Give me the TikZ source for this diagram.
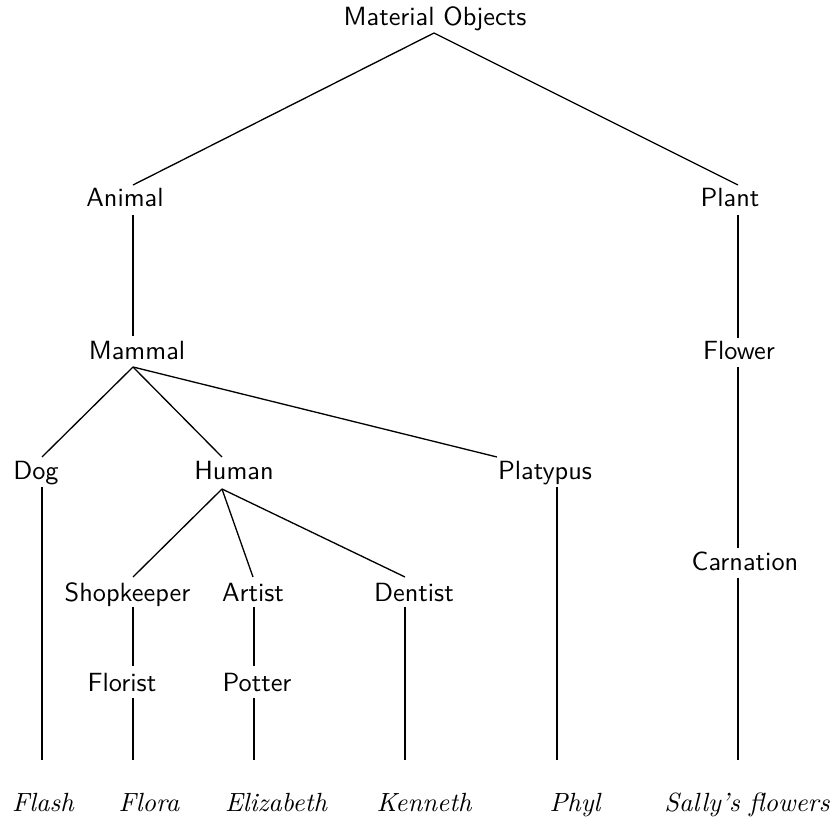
\documentclass[tikz,border=0pt]{standalone}
\begin{document}
\begin{tikzpicture}[x=0.38pt,y=-0.38pt,
  cat/.style={font=\sffamily, inner sep=0pt, anchor=base},
  ind/.style={font=\itshape, inner sep=0pt, anchor=base},
  branch/.style={draw=black, line width=0.5pt}]
\useasboundingbox (0,0) rectangle (830,820);
% category nodes
\node[cat] (mo) at (435,26) {Material Objects};
\node[cat] (animal) at (125,207) {Animal};
\node[cat] (plant) at (730,207) {Plant};
\node[cat] (mammal) at (137,359) {Mammal};
\node[cat] (flower) at (739,359) {Flower};
\node[cat] (dog) at (36,479) {Dog};
\node[cat] (human) at (234,479) {Human};
\node[cat] (platypus) at (545,479) {Platypus};
\node[cat] (carnation) at (745,571) {Carnation};
\node[cat] (shop) at (127.5,601) {Shopkeeper};
\node[cat] (artist) at (253,601) {Artist};
\node[cat] (dentist) at (414,601) {Dentist};
\node[cat] (florist) at (122,692) {Florist};
\node[cat] (potter) at (257,692) {Potter};
% individuals
\node[ind] (flash) at (43,812) {Flash};
\node[ind] (flora) at (149,812) {Flora};
\node[ind] (eliz) at (276,812) {Elizabeth};
\node[ind] (kenneth) at (424,812) {Kenneth};
\node[ind] (phyl) at (575,812) {Phyl};
\node[ind] (sally) at (747,812) {Sally's flowers};
% attachment points
\coordinate (mo-b) at (434,33);
\coordinate (animal-t) at (133,185); \coordinate (animal-b) at (133,215);
\coordinate (plant-t) at (738,185);  \coordinate (plant-b) at (738,215);
\coordinate (mammal-t) at (133,336); \coordinate (mammal-b) at (133,367);
\coordinate (flower-t) at (738,338); \coordinate (flower-b) at (738,367);
\coordinate (dog-t) at (42,457);     \coordinate (dog-b) at (42,487);
\coordinate (human-t) at (222,457);  \coordinate (human-b) at (222,489);
\coordinate (platypus-t) at (497,457); \coordinate (platypus-b) at (557,487);
\coordinate (carnation-t) at (738,548); \coordinate (carnation-b) at (738,578);
\coordinate (shop-t) at (133,577);   \coordinate (shop-b) at (133,607);
\coordinate (artist-t) at (253,577); \coordinate (artist-b) at (254,607);
\coordinate (dentist-t) at (405,577); \coordinate (dentist-b) at (405,607);
\coordinate (florist-t) at (133,666); \coordinate (florist-b) at (133,698);
\coordinate (potter-t) at (254,666); \coordinate (potter-b) at (254,698);
\coordinate (flash-t) at (42,760);
\coordinate (flora-t) at (133,760);
\coordinate (eliz-t) at (254,760);
\coordinate (kenneth-t) at (405,760);
\coordinate (phyl-t) at (557,760);
\coordinate (sally-t) at (738,760);
% branches
\foreach \a/\b in {mo/animal, mo/plant, animal/mammal, plant/flower,
  mammal/dog, mammal/human, mammal/platypus, flower/carnation,
  dog/flash, human/shop, human/artist, human/dentist, platypus/phyl,
  carnation/sally, shop/florist, artist/potter, dentist/kenneth,
  florist/flora, potter/eliz}
  \draw[branch] (\a-b) -- (\b-t);
\end{tikzpicture}
\end{document}
